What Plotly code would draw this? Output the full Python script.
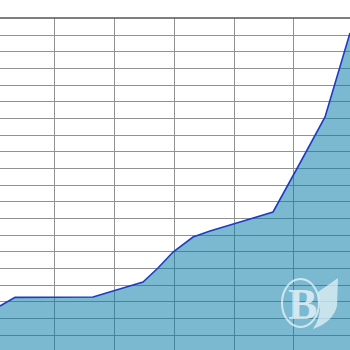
import plotly.graph_objects as go

# Data (x in axis units, y in axis units)
x_vals = [0.79, 3.30, 16.37, 24.74, 27.25, 29.77, 33.12, 35.96, 40.99, 46.52, 51.04, 55.23, 59.41]
y_vals = [2.74, 3.26, 3.28, 4.18, 5.02, 5.98, 6.88, 7.24, 7.78, 8.38, 11.32, 14.08, 19.12]

W, H, T = 350, 350, 18

def px(x):
    return x / W

def py(y):
    return (H - y) / (H - T)

fig = go.Figure()
fig.add_trace(go.Scatter(
    x=x_vals, y=y_vals, mode="lines",
    line=dict(color="#1f3cc0", width=1.6),
    fill="tozeroy", fillcolor="rgba(0,120,165,0.52)",
    hoverinfo="skip", showlegend=False,
))

shapes = [
    dict(type="line", xref="paper", yref="paper", x0=0, x1=1, y0=1, y1=1,
         line=dict(color="#555555", width=1.5)),
    dict(type="circle", xref="paper", yref="paper",
         x0=px(282), x1=px(319), y0=py(327), y1=py(279),
         line=dict(color="rgba(235,245,250,0.75)", width=2)),
    dict(type="path", xref="paper", yref="paper",
         path=(f"M {px(318)},{py(292)} L {px(338)},{py(278)} L {px(337)},{py(306)} "
               f"Q {px(333)},{py(322)} {px(313)},{py(329)} "
               f"Q {px(321)},{py(318)} {px(320)},{py(303)} Z"),
         fillcolor="rgba(235,245,250,0.7)", line=dict(width=0)),
]

fig.update_layout(
    width=W, height=H,
    margin=dict(l=0, r=0, t=T, b=0),
    paper_bgcolor="white", plot_bgcolor="white",
    xaxis=dict(range=[0.79, 59.41], tick0=0, dtick=10, showgrid=True,
               gridcolor="#929292", gridwidth=1.2, showticklabels=False,
               zeroline=False, ticks="", showline=False),
    yaxis=dict(range=[0.1, 20.02], tick0=0, dtick=1, showgrid=True,
               gridcolor="#929292", gridwidth=1.2, showticklabels=False,
               zeroline=False, ticks="", showline=False),
    shapes=shapes,
    annotations=[dict(xref="paper", yref="paper", x=px(302), y=py(304),
                      xanchor="center", yanchor="middle",
                      text="<b>B</b>", showarrow=False,
                      font=dict(family="Liberation Serif", size=44,
                                color="rgba(235,245,250,0.8)"))],
)

fig.write_html("out.html")
